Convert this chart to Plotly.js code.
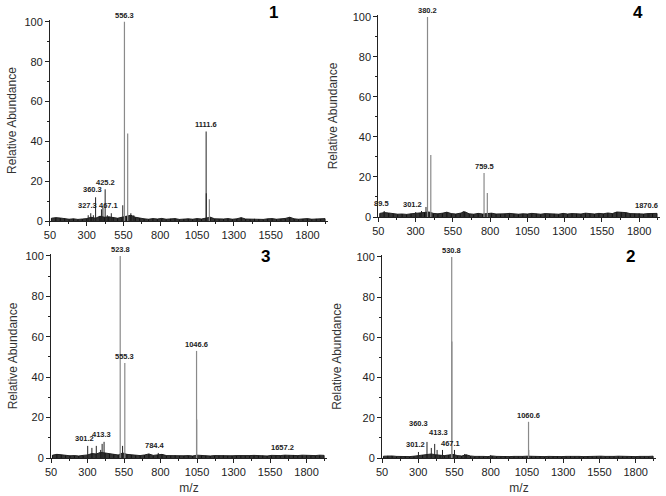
<!DOCTYPE html>
<html>
<head>
<meta charset="utf-8">
<script src="https://cdn.plot.ly/plotly-3.0.1.min.js"></script>
<style>
  html, body { margin: 0; padding: 0; background: #fff; }
  #chart { width: 666px; height: 496px; }
</style>
</head>
<body>
<div id="chart"></div>
<script>
// ESI-MS spectra, four panels (numbered 1, 4, 3, 2)

// main peaks per panel: m/z and relative abundance
const peaks1Mz = [556.3, 578.3, 1111.6, 1112.6, 1133.6, 425.2, 360.3, 327.3, 467.1, 310, 345, 400, 410, 440, 545, 600, 620];
const peaks1Ab = [100, 44, 45, 14, 11, 16, 12, 4, 4, 3, 3, 6, 7, 3, 8, 4, 3];
const peaks4Mz = [380.2, 402.2, 759.5, 781.5, 89.5, 301.2, 1870.6, 340, 370, 620];
const peaks4Ab = [100, 31, 22, 12, 3, 2.5, 2, 3, 5, 3];
const peaks3Mz = [523.8, 555.3, 1046.6, 1047.6, 301.2, 413.3, 330, 360, 390, 400, 540, 784.4, 1657.2, 720];
const peaks3Ab = [100, 47, 53, 19, 6, 8, 5, 6, 4, 7, 6, 2.5, 1.5, 2];
const peaks2Mz = [530.8, 531.8, 1060.6, 1061.6, 360.3, 413.3, 301.2, 467.1, 390, 430, 550, 620, 800];
const peaks2Ab = [100, 58, 18, 4, 8, 7, 3, 4, 5, 4, 4, 2, 1.5];

// which peaks are drawn in the lighter grey
const grey1 = [556.3, 578.3, 1133.6];
const grey4 = [380.2, 402.2, 759.5, 781.5];
const grey3 = [523.8, 555.3, 1046.6, 1047.6];
const grey2 = [530.8, 531.8, 1060.6];

// labelled peaks
const labels1 = ['556.3', '1111.6', '425.2', '360.3', '327.3', '467.1'];
const labels4 = ['380.2', '759.5', '89.5', '301.2', '1870.6'];
const labels3 = ['523.8', '555.3', '1046.6', '301.2', '413.3', '784.4', '1657.2'];
const labels2 = ['530.8', '1060.6', '360.3', '413.3', '301.2', '467.1'];

// baseline noise, sampled every 30 m/z
const noiseMz = [60, 90, 120, 150, 180, 210, 240, 270, 300, 330, 360, 390, 420, 450, 480, 510,
  540, 570, 600, 630, 660, 690, 720, 750, 780, 810, 840, 870, 900, 930, 960, 990,
  1020, 1050, 1080, 1110, 1140, 1170, 1200, 1230, 1260, 1290, 1320, 1350, 1380, 1410, 1440, 1470,
  1500, 1530, 1560, 1590, 1620, 1650, 1680, 1710, 1740, 1770, 1800, 1830, 1860, 1890, 1920];
const noise1 = [1.5, 1.8, 1.6, 1.4, 1.0, 1.2, 0.9, 1.1, 1.3, 2.0, 1.5, 2.5, 2.0, 2.2, 1.8, 1.5,
  2.0, 2.5, 3.0, 2.0, 1.5, 1.2, 1.0, 1.3, 1.1, 1.4, 1.0, 1.2, 1.3, 0.9, 1.1, 1.2,
  1.0, 1.3, 1.1, 1.5, 2.0, 1.2, 1.0, 1.1, 1.3, 1.0, 1.2, 1.8, 1.1, 1.0, 1.2, 1.1,
  0.9, 1.2, 1.3, 1.0, 1.1, 1.4, 2.0, 1.2, 1.0, 1.1, 1.3, 1.0, 1.2, 1.1, 1.3];
const noise4 = [1.8, 2.2, 2.0, 1.6, 1.4, 1.5, 1.3, 1.6, 1.8, 2.0, 2.2, 2.5, 1.8, 1.6, 1.9, 2.4,
  1.7, 1.5, 1.9, 2.6, 1.6, 1.4, 1.8, 1.5, 1.7, 1.9, 1.5, 1.4, 1.6, 1.8, 1.5, 1.4,
  1.6, 1.5, 1.8, 1.6, 1.4, 1.7, 1.5, 1.6, 1.4, 1.8, 1.5, 1.7, 1.6, 1.5, 1.9, 1.6,
  1.5, 1.8, 1.6, 2.0, 1.7, 2.5, 2.4, 2.2, 1.7, 1.6, 1.8, 1.5, 1.7, 1.6, 1.8];
const noise3 = [1.4, 1.8, 1.6, 1.3, 1.1, 1.2, 1.0, 1.3, 1.5, 2.2, 2.0, 2.8, 2.5, 2.0, 1.8, 1.5,
  2.5, 1.8, 1.6, 1.3, 1.2, 1.5, 2.0, 1.3, 1.5, 1.8, 1.2, 1.1, 1.3, 1.0, 1.1, 1.2,
  1.0, 1.4, 1.2, 1.1, 1.0, 1.2, 1.1, 1.3, 1.0, 1.1, 1.2, 1.1, 1.0, 1.2, 1.3, 1.1,
  1.2, 1.0, 1.3, 1.1, 1.2, 1.4, 1.3, 1.5, 1.2, 1.4, 1.3, 1.1, 1.2, 1.4, 1.3];
const noise2 = [0.9, 1.1, 1.0, 0.8, 0.7, 0.8, 0.7, 0.9, 1.2, 1.5, 1.8, 2.0, 1.6, 1.4, 1.2, 1.5,
  1.8, 1.2, 1.0, 1.6, 1.0, 0.8, 0.9, 0.8, 0.7, 1.0, 0.8, 0.7, 0.8, 0.7, 0.8, 0.7,
  0.8, 0.9, 0.8, 0.7, 0.8, 0.7, 0.8, 0.7, 0.8, 0.7, 0.8, 0.9, 0.7, 0.8, 0.7, 0.8,
  0.7, 0.8, 0.9, 0.8, 0.7, 0.8, 0.9, 0.8, 0.7, 0.8, 0.7, 0.8, 0.7, 0.8, 0.9];

const xTicks = [50, 300, 550, 800, 1050, 1300, 1550, 1800];
const yTicks = [0, 20, 40, 60, 80, 100];

const panels = [
  { num: '1', mz: peaks1Mz, ab: peaks1Ab, grey: grey1, labels: labels1, noise: noise1, ax: '' },
  { num: '4', mz: peaks4Mz, ab: peaks4Ab, grey: grey4, labels: labels4, noise: noise4, ax: '2' },
  { num: '3', mz: peaks3Mz, ab: peaks3Ab, grey: grey3, labels: labels3, noise: noise3, ax: '3' },
  { num: '2', mz: peaks2Mz, ab: peaks2Ab, grey: grey2, labels: labels2, noise: noise2, ax: '4' }
];

// crowded labels in panel 2 get nudged apart (px)
const labelNudge = { '4:360.3': [-8, 12], '4:413.3': [4, 5], '4:467.1': [8, 0] };

// stick spectrum: vertical line from 0 to each value, separated by gaps
function sticks(xs, ys) {
  const x = [], y = [];
  xs.forEach((v, i) => { x.push(v, v, null); y.push(0, ys[i], null); });
  return { x, y };
}

const traces = [];
const annotations = [];
const lblFont = { family: 'Liberation Sans, Arial', size: 7.5, color: '#222' };

panels.forEach(p => {
  const xa = 'x' + p.ax, ya = 'y' + p.ax;
  // noise band: dark filled profile plus thin spikes
  traces.push({ x: noiseMz, y: p.noise, xaxis: xa, yaxis: ya, mode: 'lines', fill: 'tozeroy',
    fillcolor: '#333', line: { color: '#222', width: 1 }, hoverinfo: 'skip' });
  const n = sticks(noiseMz, p.noise);
  traces.push({ x: n.x, y: n.y, xaxis: xa, yaxis: ya, mode: 'lines',
    line: { color: '#111', width: 1 }, hoverinfo: 'skip' });

  const gMz = p.mz.filter(m => p.grey.includes(m));
  const gAb = p.ab.filter((a, i) => p.grey.includes(p.mz[i]));
  const dMz = p.mz.filter(m => !p.grey.includes(m));
  const dAb = p.ab.filter((a, i) => !p.grey.includes(p.mz[i]));
  const g = sticks(gMz, gAb), d = sticks(dMz, dAb);
  traces.push({ x: d.x, y: d.y, xaxis: xa, yaxis: ya, mode: 'lines',
    line: { color: '#222', width: 1 }, hoverinfo: 'skip' });
  traces.push({ x: g.x, y: g.y, xaxis: xa, yaxis: ya, mode: 'lines',
    line: { color: '#8a8a8a', width: 1.2 }, hoverinfo: 'skip' });

  p.labels.forEach(t => {
    const i = p.mz.indexOf(parseFloat(t));
    const small = p.ab[i] < 15;
    const nudge = labelNudge[(p.ax || '1') + ':' + t] || [small ? -3 : 0, small ? 1 : 0];
    annotations.push({ x: p.mz[i], y: p.ab[i], xref: xa, yref: ya, text: '<b>' + t + '</b>',
      showarrow: false, yanchor: 'bottom', xshift: nudge[0], yshift: nudge[1],
      font: lblFont });
  });
});

const axFont = { family: 'Liberation Sans, Arial', size: 11, color: '#222' };
const titleFont = { family: 'Liberation Sans, Arial', size: 12, color: '#333' };
function xAxis(domain, anchor, withTitle) {
  const a = {
    domain, anchor, range: [50, 1940], tickvals: xTicks, ticks: 'outside', ticklen: 4,
    tickwidth: 1, tickcolor: '#222', showline: true, linecolor: '#222', linewidth: 1,
    showgrid: false, zeroline: false, tickfont: axFont,
    minor: { ticks: 'outside', ticklen: 2, tickvals: [175, 425, 675, 925, 1175, 1425, 1675, 1925], tickcolor: '#222' }
  };
  if (withTitle) a.title = { text: 'm/z', font: titleFont, standoff: 6 };
  return a;
}
function yAxis(domain, anchor, standoff) {
  return {
    domain, anchor, range: [0, 101], tickvals: yTicks, ticks: 'outside', ticklen: 4,
    tickwidth: 1, tickcolor: '#222', showline: true, linecolor: '#222', linewidth: 1,
    showgrid: false, zeroline: false, tickfont: axFont,
    minor: { ticks: 'outside', ticklen: 2, tickvals: [10, 30, 50, 70, 90], tickcolor: '#222' },
    title: { text: 'Relative Abundance', font: titleFont, standoff }
  };
}

// panel numbers
const numPos = [[0.41, 0.974], [0.958, 0.974], [0.398, 0.482], [0.946, 0.482]];
panels.forEach((p, i) => {
  annotations.push({ x: numPos[i][0], y: numPos[i][1], xref: 'paper', yref: 'paper', text: '<b>' + p.num + '</b>',
    showarrow: false, xanchor: 'center', yanchor: 'middle',
    font: { family: 'Liberation Sans, Arial', size: 17, color: '#000' } });
});

const layout = {
  width: 666, height: 496,
  margin: { l: 0, r: 0, t: 0, b: 0 },
  paper_bgcolor: '#fff', plot_bgcolor: '#fff',
  showlegend: false,
  xaxis: xAxis([0.075, 0.4925], 'y', false),
  yaxis: yAxis([0.554, 0.960], 'x', 5),
  xaxis2: xAxis([0.568, 0.991], 'y2', false),
  yaxis2: yAxis([0.5625, 0.970], 'x2', 12),
  xaxis3: xAxis([0.0766, 0.491], 'y3', true),
  yaxis3: yAxis([0.0766, 0.488], 'x3', 5),
  xaxis4: xAxis([0.5736, 0.985], 'y4', true),
  yaxis4: yAxis([0.0766, 0.486], 'x4', 12),
  annotations
};

Plotly.newPlot('chart', traces, layout, { displayModeBar: false, staticPlot: true });
</script>
</body>
</html>
